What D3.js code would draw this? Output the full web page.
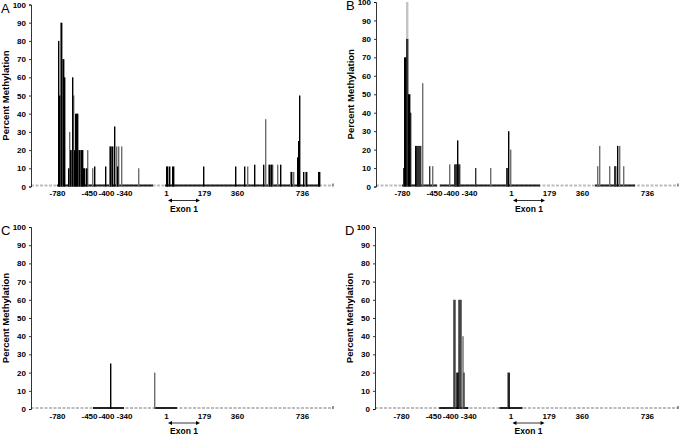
<!DOCTYPE html>
<head>
	<meta charset="utf-8">
	<title>Percent methylation</title>
</head>
<style>
body { margin: 0; background: #fff; }
text { font-family: "Liberation Sans", Arial, sans-serif; }
.tick text { font-size: 8px; font-weight: bold; fill: #000; }
.ylab { font-size: 9.5px; font-weight: bold; }
.letter { font-size: 13px; }
</style>
<svg id="svg" width="680" height="435"></svg>
<script src="https://cdn.jsdelivr.net/npm/d3@7/dist/d3.min.js"></script>
<script>

// CpG site index along the region (0..302), x tick labels are positions in bp
var siteTicks = [26, 58, 75, 93, 135, 173, 206, 271];
var siteLabels = ["-780", "-450", "-400", "-340", "1", "179", "360", "736"];
var yTicks = [0, 10, 20, 30, 40, 50, 60, 70, 80, 90, 100];
var exonSites = [137, 169];

// panel A
var aBlack = [[27,80],[28,50],[30,90],[32,70],[33,60],[37,10],[39,20],[41,60],[43,20],[44,40],[45,40],[46,40],[48,20],[50,20],[51,20],[52,10],[53,10],[55,10],[63,11],[74,11],[79,22],[81,22],[83,33],[86,11],[135,11],[136,11],[138,11],[141,11],[142,11],[172,11],[204,11],[213,11],[223,12],[232,12],[238,12],[240,12],[249,12],[260,8],[266,16],[267,25],[268,50],[272,8],[275,8],[287,8],[288,8]];
var aGray = [[29,90],[31,70],[38,30],[40,20],[42,50],[47,20],[49,20],[56,20],[61,10],[78,22],[80,22],[85,22],[87,22],[90,22],[107,10],[216,11],[234,37],[237,12],[239,12],[241,12],[246,12],[259,8],[262,8],[274,8]];
var aCover = [[26,122],[134,289]];

// panel B
var bLight = [[30,100],[31,100]];
var bDark = [[27,10],[30,80],[31,80],[34,40],[40,22],[41,22],[42,22],[43,22],[44,22],[53,11],[78,12],[79,12],[80,12],[82,12],[83,12],[99,10],[130,10],[131,10],[238,11],[239,11]];
var bBlack = [[28,70],[29,70],[32,50],[33,50],[39,22],[81,25],[132,30],[241,22]];
var bGray = [[46,56],[56,11],[73,12],[114,10],[134,20],[221,11],[223,22],[233,11],[243,22],[247,11]];
var bCover = [[26,61],[64,164],[219,259]];

// panel C
var cBlack = [[79,25]];
var cGray = [[123,20]];
var cCover = [[62,93],[123,146]];

// panel D
var dDark = [[78,60],[79,60],[83,60],[84,60],[85,60],[88,20],[132,20]];
var dBlack = [[81,20],[82,20],[133,20]];
var dGray = [[87,40]];
var dCover = [[64,93],[124,147]];

var colors = { light: "#c4c4c4", gray: "#6e6e6e", dark: "#333", black: "#000" };

var panels = [
  { letter: "A", left: 31, right: 333, top: 4.5, bottom: 186.5, cover: aCover,
    series: [["gray", aGray], ["black", aBlack]] },
  { letter: "B", left: 376, right: 678, top: 2, bottom: 186.5, cover: bCover,
    series: [["light", bLight], ["gray", bGray], ["dark", bDark], ["black", bBlack]] },
  { letter: "C", left: 31, right: 333, top: 227, bottom: 409, cover: cCover,
    series: [["gray", cGray], ["black", cBlack]] },
  { letter: "D", left: 375, right: 678, top: 227, bottom: 409, cover: dCover,
    series: [["gray", dGray], ["dark", dDark], ["black", dBlack]] }
];

var svg = d3.select("svg");

panels.forEach(function(p) {
  var x = d3.scaleLinear().domain([0, 302]).range([p.left, p.right]);
  var y = d3.scaleLinear().domain([0, 100]).range([p.bottom, p.top]);
  var g = svg.append("g");

  // unmeasured baseline (dashed grey)
  g.append("line")
      .attr("x1", p.left).attr("x2", p.right)
      .attr("y1", y(0) - 1).attr("y2", y(0) - 1)
      .attr("stroke", "#bdbdbd").attr("stroke-width", 2)
      .attr("stroke-dasharray", "3,1.5");

  // measured sites at 0%
  g.selectAll("rect.cover")
    .data(p.cover)
    .enter().append("rect")
      .attr("class", "cover")
      .attr("x", function(d) { return x(d[0]); })
      .attr("width", function(d) { return x(d[1]) - x(d[0]); })
      .attr("y", y(0) - 2)
      .attr("height", 2)
      .attr("fill", "#222");

  p.series.forEach(function(s) {
    g.selectAll(null)
      .data(s[1])
      .enter().append("rect")
        .attr("x", function(d) { return x(d[0]); })
        .attr("width", x(1.4) - x(0))
        .attr("y", function(d) { return y(d[1]); })
        .attr("height", function(d) { return y(0) - y(d[1]); })
        .attr("fill", colors[s[0]]);
  });

  // y axis
  var yAxis = g.append("g")
      .attr("transform", "translate(" + p.left + ",0)")
      .call(d3.axisLeft(y).tickValues(yTicks).tickSize(2).tickPadding(3));
  yAxis.select(".domain").attr("stroke-width", 0.8);
  yAxis.selectAll(".tick line").attr("stroke-width", 0.8);

  // x labels
  var xAxis = g.append("g")
      .attr("transform", "translate(0," + p.bottom + ")")
      .call(d3.axisBottom(x).tickValues(siteTicks)
        .tickFormat(function(d, i) { return siteLabels[i]; })
        .tickSize(0).tickPadding(4));
  xAxis.select(".domain").remove();

  // end tick at the right of the axis
  g.append("line")
      .attr("x1", p.right).attr("x2", p.right)
      .attr("y1", y(0) - 3).attr("y2", y(0))
      .attr("stroke", "#000").attr("stroke-width", 0.8);

  // exon 1 arrow
  var ay = p.bottom + 14;
  var x0 = x(exonSites[0]), x1 = x(exonSites[1]);
  g.append("line")
      .attr("x1", x0 + 2).attr("x2", x1 - 2)
      .attr("y1", ay).attr("y2", ay)
      .attr("stroke", "#000").attr("stroke-width", 0.8);
  g.append("path")
      .attr("d", "M" + x0 + "," + ay + "l4,-2l0,4z M" + x1 + "," + ay + "l-4,-2l0,4z")
      .attr("fill", "#000");
  g.append("text")
      .attr("x", (x0 + x1) / 2).attr("y", p.bottom + 25)
      .attr("text-anchor", "middle")
      .style("font-size", "8.5px").style("font-weight", "bold")
      .text("Exon 1");

  // y axis title
  g.append("text")
      .attr("class", "ylab")
      .attr("transform", "translate(" + (p.left - 22) + "," + ((p.top + p.bottom) / 2) + ") rotate(-90)")
      .attr("text-anchor", "middle")
      .text("Percent Methylation");

  // panel letter
  g.append("text")
      .attr("class", "letter")
      .attr("x", p.left - 30).attr("y", p.top + 8)
      .text(p.letter);
});

</script>
